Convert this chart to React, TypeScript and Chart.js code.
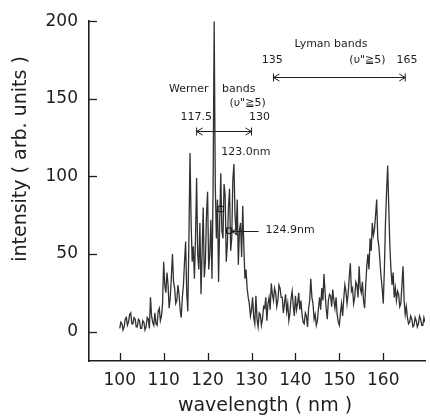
import { useEffect, useRef } from "react";
import { Chart, registerables } from "chart.js";

Chart.register(...registerables);

const WAVELENGTH = [
  100, 100.25, 100.5, 100.75, 101, 101.25, 101.5, 101.75,
  102, 102.25, 102.5, 102.75, 103, 103.25, 103.5, 103.75,
  104, 104.25, 104.5, 104.75, 105, 105.25, 105.5, 105.75,
  106, 106.25, 106.5, 106.75, 107, 107.25, 107.5, 107.75,
  108, 108.25, 108.5, 108.75, 109, 109.25, 109.5, 109.75,
  110, 110.25, 110.5, 110.75, 111, 111.25, 111.5, 111.75,
  112, 112.25, 112.5, 112.75, 113, 113.25, 113.5, 113.75,
  114, 114.25, 114.5, 114.75, 115, 115.25, 115.5, 115.75,
  116, 116.25, 116.5, 116.75, 117, 117.25, 117.5, 117.75,
  118, 118.25, 118.5, 118.75, 119, 119.25, 119.5, 119.75,
  120, 120.25, 120.5, 120.75, 121, 121.25, 121.5, 121.75,
  122, 122.25, 122.5, 122.75, 123, 123.25, 123.5, 123.75,
  124, 124.25, 124.5, 124.75, 125, 125.25, 125.5, 125.75,
  126, 126.25, 126.5, 126.75, 127, 127.25, 127.5, 127.75,
  128, 128.25, 128.5, 128.75, 129, 129.25, 129.5, 129.75,
  130, 130.25, 130.5, 130.75, 131, 131.25, 131.5, 131.75,
  132, 132.25, 132.5, 132.75, 133, 133.25, 133.5, 133.75,
  134, 134.25, 134.5, 134.75, 135, 135.25, 135.5, 135.75,
  136, 136.25, 136.5, 136.75, 137, 137.25, 137.5, 137.75,
  138, 138.25, 138.5, 138.75, 139, 139.25, 139.5, 139.75,
  140, 140.25, 140.5, 140.75, 141, 141.25, 141.5, 141.75,
  142, 142.25, 142.5, 142.75, 143, 143.25, 143.5, 143.75,
  144, 144.25, 144.5, 144.75, 145, 145.25, 145.5, 145.75,
  146, 146.25, 146.5, 146.75, 147, 147.25, 147.5, 147.75,
  148, 148.25, 148.5, 148.75, 149, 149.25, 149.5, 149.75,
  150, 150.25, 150.5, 150.75, 151, 151.25, 151.5, 151.75,
  152, 152.25, 152.5, 152.75, 153, 153.25, 153.5, 153.75,
  154, 154.25, 154.5, 154.75, 155, 155.25, 155.5, 155.75,
  156, 156.25, 156.5, 156.75, 157, 157.25, 157.5, 157.75,
  158, 158.25, 158.5, 158.75, 159, 159.25, 159.5, 159.75,
  160, 160.25, 160.5, 160.75, 161, 161.25, 161.5, 161.75,
  162, 162.25, 162.5, 162.75, 163, 163.25, 163.5, 163.75,
  164, 164.25, 164.5, 164.75, 165, 165.25, 165.5, 165.75,
  166, 166.25, 166.5, 166.75, 167, 167.25, 167.5, 167.75,
  168, 168.25, 168.5, 168.75, 169, 169.25, 169.5, 169.75,
  170,
];

const INTENSITY = [
  2, 6, 5, 1, 3, 8, 9, 4,
  6, 11, 12, 5, 5, 9, 8, 3,
  3, 8, 7, 2, 2, 7, 6, 1,
  3, 9, 8, 2, 22, 10, 6, 4,
  12, 5, 4, 13, 15, 7, 10, 18,
  45, 30, 25, 38, 30, 15, 22, 35,
  50, 32, 28, 18, 20, 30, 24, 14,
  9, 22, 30, 45, 58, 25, 13, 60,
  115, 70, 45, 55, 34, 60, 99, 50,
  40, 70, 24, 50, 80, 35, 45, 75,
  90, 40, 50, 72, 34, 90, 200, 95,
  60, 85, 32, 70, 102, 65, 60, 95,
  88, 45, 56, 80, 92, 52, 60, 98,
  108, 75, 62, 85, 43, 65, 70, 48,
  81, 55, 34, 40, 28, 22, 18, 10,
  14, 22, 9, 5, 23, 8, 3, 12,
  11, 4, 8, 16, 15, 22, 7, 18,
  22, 14, 31, 24, 20, 28, 25, 16,
  20, 30, 28, 22, 22, 12, 18, 24,
  13, 18, 7, 12, 21, 26, 17, 10,
  23, 14, 18, 25, 14, 20, 11, 6,
  5, 12, 10, 3, 15, 20, 34, 22,
  18, 8, 11, 4, 7, 15, 22, 14,
  28, 20, 37, 25, 15, 8, 20, 24,
  23, 16, 27, 20, 15, 22, 11, 6,
  4, 12, 18, 10, 21, 30, 26, 18,
  24, 35, 44, 26, 28, 18, 22, 32,
  30, 22, 42, 28, 25, 32, 20, 15,
  30, 42, 50, 40, 60, 52, 70, 62,
  66, 75, 85, 60, 55, 45, 35, 28,
  18, 40, 70, 90, 107, 80, 55, 40,
  30, 38, 22, 28, 20, 26, 24, 16,
  18, 30, 42, 20, 11, 16, 9, 5,
  6, 10, 8, 3, 4, 9, 7, 3,
  5, 10, 8, 4, 4, 9, 6, 3,
  5,
];

const MARKER_NM = [123.0, 124.9];
const MARKER_VAL = [79, 65];

const X_TICKS = [100, 110, 120, 130, 140, 150, 160];
const Y_TICKS = [0, 50, 100, 150, 200];

const X_TITLE = "wavelength ( nm )";
const Y_TITLE = "intensity ( arb. units )";

const NOTES = [
  { text: "Werner", x: 115.7, y: 156, align: "center" },
  { text: "bands", x: 127.1, y: 156, align: "center" },
  { text: "(υ\"≧5)", x: 129.1, y: 147, align: "center" },
  { text: "117.5", x: 117.4, y: 138, align: "center" },
  { text: "130", x: 131.8, y: 138, align: "center" },
  { text: "123.0nm", x: 123.1, y: 115.6, align: "left" },
  { text: "124.9nm", x: 133.2, y: 65.4, align: "left" },
  { text: "Lyman bands", x: 148.1, y: 185, align: "center" },
  { text: "135", x: 134.75, y: 175, align: "center" },
  { text: "(υ\"≧5)", x: 156.4, y: 175, align: "center" },
  { text: "165", x: 165.4, y: 175, align: "center" },
];

const RANGE_ARROWS = [
  { from: 117.5, to: 130, y: 129 },
  { from: 135, to: 165, y: 164 },
];

const POINTER_ARROWS = [{ from: 125.5, to: 131.6, y: 65 }];

const FONT = "DejaVu Sans";
const INK = "#1e1e1e";

function head(ctx: CanvasRenderingContext2D, x: number, y: number, dir: number) {
  ctx.beginPath();
  ctx.moveTo(x + dir * 6, y - 3.5);
  ctx.lineTo(x, y);
  ctx.lineTo(x + dir * 6, y + 3.5);
  ctx.stroke();
}

const overlay = {
  id: "overlay",
  afterDraw(chart: any) {
    const ctx: CanvasRenderingContext2D = chart.ctx;
    const xs = chart.scales.x;
    const ys = chart.scales.y;
    const area = chart.chartArea;
    ctx.save();
    ctx.strokeStyle = INK;
    ctx.fillStyle = INK;
    ctx.lineWidth = 1.3;
    Y_TICKS.forEach((v) => {
      const py = Math.round(ys.getPixelForValue(v)) + 0.5;
      ctx.beginPath();
      ctx.moveTo(area.left, py);
      ctx.lineTo(area.left + 8, py);
      ctx.stroke();
    });
    X_TICKS.forEach((v) => {
      const px = Math.round(xs.getPixelForValue(v)) + 0.5;
      ctx.beginPath();
      ctx.moveTo(px, area.bottom);
      ctx.lineTo(px, area.bottom - 8);
      ctx.stroke();
    });
    ctx.lineWidth = 1;
    RANGE_ARROWS.forEach((a) => {
      const x1 = xs.getPixelForValue(a.from);
      const x2 = xs.getPixelForValue(a.to);
      const py = Math.round(ys.getPixelForValue(a.y)) + 0.5;
      ctx.beginPath();
      ctx.moveTo(x1, py);
      ctx.lineTo(x2, py);
      ctx.moveTo(x1, py - 4);
      ctx.lineTo(x1, py + 4);
      ctx.moveTo(x2, py - 4);
      ctx.lineTo(x2, py + 4);
      ctx.stroke();
      head(ctx, x1, py, 1);
      head(ctx, x2, py, -1);
    });
    POINTER_ARROWS.forEach((a) => {
      const x1 = xs.getPixelForValue(a.from);
      const x2 = xs.getPixelForValue(a.to);
      const py = Math.round(ys.getPixelForValue(a.y)) + 0.5;
      ctx.beginPath();
      ctx.moveTo(x1, py);
      ctx.lineTo(x2, py);
      ctx.stroke();
      head(ctx, x1, py, 1);
    });
    ctx.font = `11px "${FONT}"`;
    ctx.textBaseline = "middle";
    NOTES.forEach((n) => {
      ctx.textAlign = n.align as CanvasTextAlign;
      ctx.fillText(n.text, xs.getPixelForValue(n.x), ys.getPixelForValue(n.y));
    });
    ctx.font = `19px "${FONT}"`;
    ctx.textAlign = "center";
    ctx.textBaseline = "alphabetic";
    ctx.fillText(X_TITLE, 265, 411);
    ctx.translate(21, 159);
    ctx.rotate(-Math.PI / 2);
    ctx.textBaseline = "middle";
    ctx.fillText(Y_TITLE, 0, 0);
    ctx.restore();
  },
};

export default function App() {
  const ref = useRef<HTMLCanvasElement | null>(null);
  useEffect(() => {
    document.body.style.margin = "0";
    const canvas = ref.current;
    if (!canvas) return;
    const chart = new Chart(canvas, {
      type: "line",
      data: {
        datasets: [
          {
            data: WAVELENGTH.map((w, i) => ({ x: w, y: INTENSITY[i] })),
            borderColor: "rgba(20,20,20,0.88)",
            borderWidth: 1.3,
            pointRadius: 0,
            tension: 0,
          },
          {
            data: MARKER_NM.map((w, i) => ({ x: w, y: MARKER_VAL[i] })),
            showLine: false,
            pointStyle: "rect",
            pointRadius: 3.8,
            pointBackgroundColor: "#ffffff",
            pointBorderColor: "#111111",
            pointBorderWidth: 1,
          },
        ],
      },
      options: {
        responsive: false,
        animation: false,
        devicePixelRatio: 1,
        layout: { padding: { top: 16, left: 0, right: 0, bottom: 0 } },
        plugins: { legend: { display: false }, tooltip: { enabled: false } },
        scales: {
          x: {
            type: "linear",
            min: 93,
            max: 169.5,
            afterBuildTicks: (s: any) => {
              s.ticks = X_TICKS.map((v) => ({ value: v }));
            },
            afterFit: (s: any) => {
              s.height = 57;
            },
            grid: { display: false, drawTicks: false },
            border: { display: true, color: INK, width: 1.6 },
            ticks: {
              padding: 9,
              color: INK,
              font: { family: FONT, size: 17 },
              maxRotation: 0,
            },
          },
          y: {
            type: "linear",
            min: -19,
            max: 200,
            afterBuildTicks: (s: any) => {
              s.ticks = Y_TICKS.map((v) => ({ value: v }));
            },
            afterFit: (s: any) => {
              s.width = 89;
            },
            grid: { display: false, drawTicks: false },
            border: { display: true, color: INK, width: 1.6 },
            ticks: {
              padding: 11,
              color: INK,
              font: { family: FONT, size: 17 },
            },
          },
        },
      },
      plugins: [overlay],
    } as any);
    return () => chart.destroy();
  }, []);
  return <canvas ref={ref} width={430} height={418} style={{ display: "block" }} />;
}
